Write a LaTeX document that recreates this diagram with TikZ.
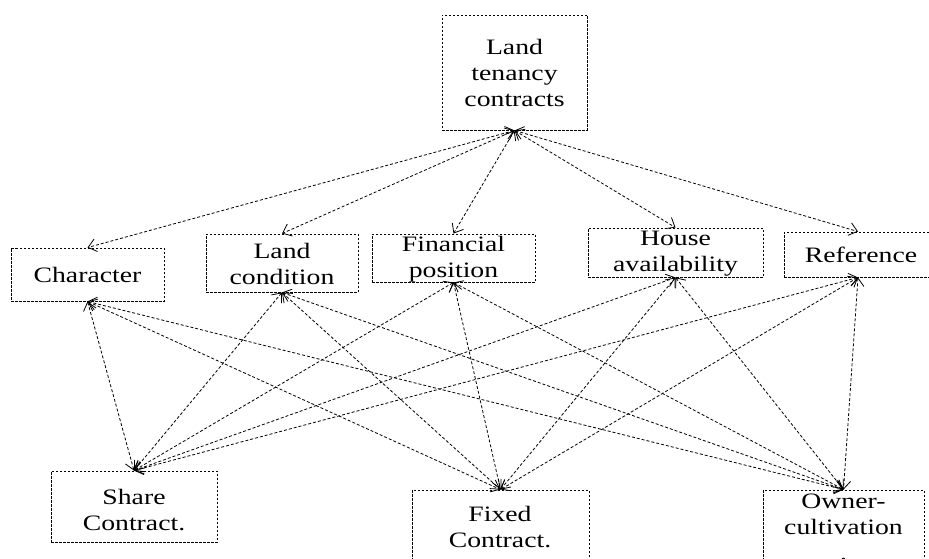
\documentclass[tikz,border=0pt]{standalone}
\usepackage{fontspec}
\setmainfont[FakeStretch=1.26]{Liberation Serif}
\usetikzlibrary{arrows.meta}
\begin{document}
\begin{tikzpicture}[x=1pt,y=-1pt,
  box/.style={draw, dash pattern=on 2.5pt off 1.5pt, line width=0.9pt, inner sep=0pt},
  lbl/.style={align=center, inner sep=0pt, font=\fontsize{22}{26}\selectfont},
  link/.style={dash pattern=on 3pt off 2pt, line width=0.8pt,
    {Straight Barb[length=8pt,width=13pt]}-{Straight Barb[length=8pt,width=13pt]}}]
\useasboundingbox (0,0) rectangle (929,559);
% boxes
\node[box, minimum width=145pt, minimum height=115pt] (top) at (514.5,72.5) {};
\node[box, minimum width=153pt, minimum height=53pt] (char) at (87.5,274.5) {};
\node[box, minimum width=152pt, minimum height=58pt] (land) at (282,263) {};
\node[box, minimum width=163pt, minimum height=48pt] (fin) at (453.5,258) {};
\node[box, minimum width=175pt, minimum height=49pt] (house) at (675.5,252.5) {};
\node[box, minimum width=148pt, minimum height=45pt] (ref) at (858,254.5) {};
\node[box, minimum width=166pt, minimum height=71pt] (share) at (134,506.5) {};
\node[box, minimum width=177pt, minimum height=90pt] (fixed) at (500.5,535) {};
\node[box, minimum width=161pt, minimum height=90pt] (owner) at (843.5,535) {};
% labels
\node[lbl] (topT) at (514.5,73) {Land\\tenancy\\contracts};
\node[lbl] (charT) at (87.5,275) {Character};
\node[lbl] (landT) at (282,264) {Land\\condition};
\node[lbl] (finT) at (453.5,259) {Financial\\position};
\node[lbl] (houseT) at (675.5,254) {House\\availability};
\node[lbl] (refT) at (861,255) {Reference};
\node[lbl] (shareT) at (134,510) {Share\\Contract.};
\node[lbl] (fixedT) at (500,527.5) {Fixed\\Contract.};
\node[lbl] (ownerT) at (843.5,527) {Owner-\\cultivation\\.};
% connectors
\foreach \m in {char,land,fin,house,ref}
  \draw[link] (top.south) -- (\m.north);
\foreach \b in {share,fixed,owner}
  \foreach \m in {char,land,fin,house,ref}
    \draw[link] (\m.south) -- (\b.north);
\end{tikzpicture}
\end{document}
